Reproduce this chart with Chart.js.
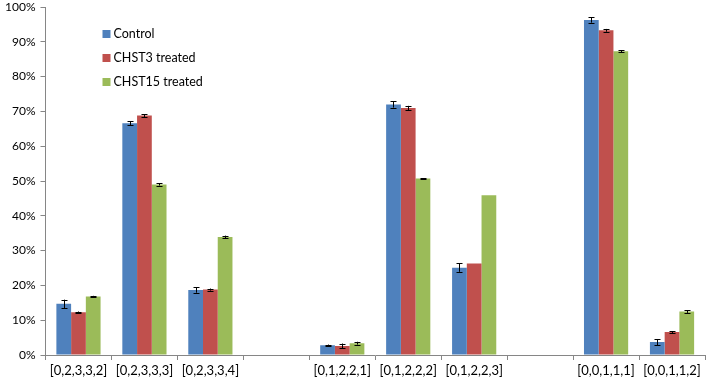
<!DOCTYPE html>
<html>
<head>
<meta charset="utf-8">
<script src="https://cdn.jsdelivr.net/npm/chart.js@4.4.1/dist/chart.umd.min.js"></script>
<style>
html,body{margin:0;padding:0;background:#fff;}
#wrap{width:709px;height:382px;position:relative;}
</style>
</head>
<body>
<div id="wrap"><canvas id="c" width="709" height="382"></canvas></div>
<script>
const categories = ['[0,2,3,3,2]','[0,2,3,3,3]','[0,2,3,3,4]','','[0,1,2,2,1]','[0,1,2,2,2]','[0,1,2,2,3]','','[0,0,1,1,1]','[0,0,1,1,2]'];
const seriesNames = ['Control','CHST3 treated','CHST15 treated'];
const control = [14.7, 66.6, 18.7, null, 2.8, 72.0, 25.1, null, 96.3, 3.7];
const chst3   = [12.3, 68.8, 18.8, null, 2.6, 71.0, 26.3, null, 93.3, 6.6];
const chst15  = [16.8, 49.0, 33.9, null, 3.4, 50.7, 45.9, null, 87.3, 12.5];
const controlErr = [1.2, 0.5, 0.8, null, 0.2, 0.9, 1.2, null, 0.8, 0.9];
const chst3Err   = [0.2, 0.4, 0.3, null, 0.7, 0.6, 0, null, 0.4, 0.3];
const chst15Err  = [0.2, 0.3, 0.4, null, 0.4, 0.1, 0, null, 0.3, 0.4];
const yTicks = [0,10,20,30,40,50,60,70,80,90,100];
const colors = ['#4F81BD','#C0504D','#9BBB59'];
const FONT = 'Lato, "Open Sans", sans-serif';

const errorBars = {
  id: 'errorBars',
  afterDatasetsDraw(chart) {
    const ctx = chart.ctx;
    const y = chart.scales.y;
    ctx.save();
    ctx.strokeStyle = '#000';
    ctx.lineWidth = 1;
    chart.data.datasets.forEach((ds, di) => {
      const meta = chart.getDatasetMeta(di);
      meta.data.forEach((bar, i) => {
        const v = ds.data[i], e = ds.errors[i];
        if (v == null || !e) return;
        const x = Math.round(bar.x) + 0.5;
        const top = y.getPixelForValue(v + e);
        const bot = y.getPixelForValue(v - e);
        ctx.beginPath();
        ctx.moveTo(x, top); ctx.lineTo(x, bot);
        ctx.moveTo(x - 3, Math.round(top) + 0.5); ctx.lineTo(x + 3, Math.round(top) + 0.5);
        ctx.moveTo(x - 3, Math.round(bot) + 0.5); ctx.lineTo(x + 3, Math.round(bot) + 0.5);
        ctx.stroke();
      });
    });
    ctx.restore();
  }
};

const insideLegend = {
  id: 'insideLegend',
  afterDraw(chart) {
    const ctx = chart.ctx;
    const a = chart.chartArea;
    ctx.save();
    ctx.font = '12.5px ' + FONT;
    ctx.textBaseline = 'middle';
    chart.data.datasets.forEach((ds, i) => {
      const yy = a.top + 27 + i * 24;
      const xx = a.left + 57;
      ctx.fillStyle = ds.backgroundColor;
      ctx.fillRect(xx, yy - 4, 8, 8);
      ctx.fillStyle = '#000';
      ctx.fillText(ds.label, xx + 11, yy);
    });
    ctx.restore();
  }
};

const series = [control, chst3, chst15];
const errs = [controlErr, chst3Err, chst15Err];

new Chart(document.getElementById('c'), {
  type: 'bar',
  data: {
    labels: categories,
    datasets: series.map((d, i) => ({
      label: seriesNames[i],
      data: d,
      errors: errs[i],
      backgroundColor: colors[i],
      borderWidth: 0,
      categoryPercentage: 0.67,
      barPercentage: 1.0
    }))
  },
  options: {
    responsive: false,
    animation: false,
    layout: { padding: { left: 0, right: 4, top: 7, bottom: 2 } },
    plugins: { legend: { display: false }, tooltip: { enabled: false } },
    scales: {
      x: {
        grid: { display: true, drawOnChartArea: false, drawTicks: true, tickLength: 5, color: '#868686', offset: true },
        border: { color: '#868686' },
        ticks: { color: '#000', font: { family: FONT, size: 13 }, maxRotation: 0, autoSkip: false, padding: 3 },
        afterFit(axis) { axis.paddingLeft = 0; axis.paddingRight = 0; axis.height = 25; }
      },
      y: {
        min: 0, max: 100,
        afterBuildTicks(axis) { axis.ticks = yTicks.map(v => ({ value: v })); },
        afterFit(axis) { axis.paddingTop = 0; axis.paddingBottom = 0; },
        grid: { display: true, drawOnChartArea: false, drawTicks: true, tickLength: 5, color: '#868686' },
        border: { color: '#868686' },
        ticks: { color: '#000', font: { family: FONT, size: 12 }, padding: 5, callback: v => v + '%' }
      }
    }
  },
  plugins: [errorBars, insideLegend]
});
</script>
</body>
</html>
